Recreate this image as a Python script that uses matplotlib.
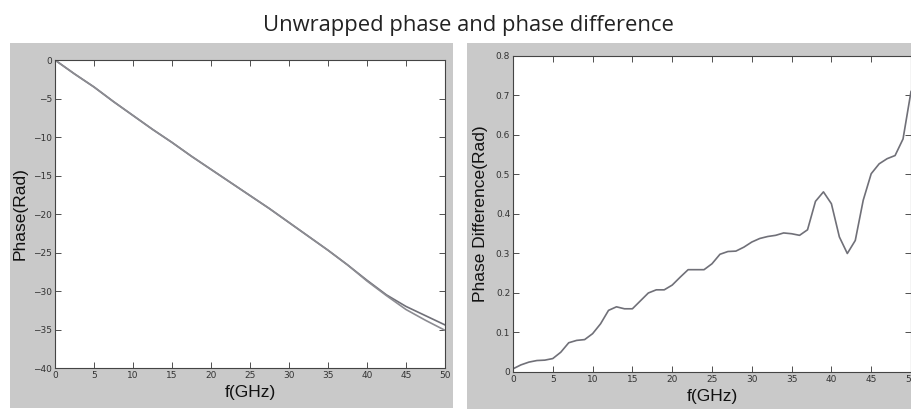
import matplotlib
matplotlib.use("Agg")
import matplotlib.pyplot as plt
from matplotlib.patches import Rectangle

# ── Data ─────────────────────────────────────────────────────────────────────
f_phase = [0, 2.5, 5, 7.5, 10, 12.5, 15, 17.5, 20, 22.5, 25, 27.5, 30, 32.5,
           35, 37.5, 40, 42.5, 45, 47.5, 50]
phase_a = [0.0, -1.8, -3.5, -5.4, -7.2, -9.0, -10.7, -12.5, -14.2, -15.9,
           -17.6, -19.3, -21.1, -22.9, -24.7, -26.6, -28.6, -30.5, -32.0,
           -33.2, -34.4]
phase_b = [0.0, -1.8, -3.5, -5.4, -7.2, -9.0, -10.7, -12.5, -14.2, -15.9,
           -17.6, -19.3, -21.1, -22.9, -24.7, -26.6, -28.7, -30.6, -32.4,
           -33.8, -35.1]

f_diff = list(range(0, 51))
phase_diff = [0.008, 0.018, 0.025, 0.029, 0.030, 0.034, 0.050, 0.074, 0.080,
              0.082, 0.097, 0.122, 0.156, 0.165, 0.160, 0.160, 0.180, 0.200,
              0.208, 0.208, 0.220, 0.240, 0.259, 0.259, 0.259, 0.274, 0.298,
              0.305, 0.306, 0.316, 0.329, 0.338, 0.343, 0.346, 0.352, 0.350,
              0.346, 0.360, 0.432, 0.456, 0.426, 0.342, 0.300, 0.333, 0.435,
              0.502, 0.527, 0.540, 0.548, 0.590, 0.710]

x_ticks = [0, 5, 10, 15, 20, 25, 30, 35, 40, 45, 50]
phase_ticks = [-40, -35, -30, -25, -20, -15, -10, -5, 0]
diff_ticks = [0, 0.1, 0.2, 0.3, 0.4, 0.5, 0.6, 0.7, 0.8]

# ── Style ────────────────────────────────────────────────────────────────────
_PANEL = "#c9c9c9"
_LINE1 = "#707078"
_LINE2 = "#8c8c92"
_TICK = "#333333"
_LABEL = dict(fontsize=12.5, family="Liberation Sans", color="#111111")

fig = plt.figure(figsize=(9.12, 4.09), dpi=100)
fig.patch.set_facecolor("white")

# grey figure panels behind each axes
fig.patches.append(Rectangle((0.011, 0.002), 0.486, 0.892, transform=fig.transFigure,
                             facecolor=_PANEL, edgecolor="none", zorder=-5))
fig.patches.append(Rectangle((0.512, 0.0), 0.488, 0.895, transform=fig.transFigure,
                             facecolor=_PANEL, edgecolor="none", zorder=-5))

fig.text(0.514, 0.937, "Unwrapped phase and phase difference", ha="center", va="center",
         fontsize=15.8, family="Open Sans", color="#222222")

ax1 = fig.add_axes([0.0603, 0.1002, 0.4276, 0.753])
ax2 = fig.add_axes([0.5625, 0.0905, 0.4364, 0.7726])

for ax in (ax1, ax2):
    ax.set_facecolor("white")
    ax.tick_params(direction="in", top=True, right=True, length=4, width=0.6,
                   labelsize=6.5, colors=_TICK, pad=2)
    for spine in ax.spines.values():
        spine.set_edgecolor("#444444")
        spine.set_linewidth(0.8)
    ax.set_xlim(0, 50)
    ax.set_xticks(x_ticks)

# ── Left: unwrapped phase ───────────────────────────────────────────────────
ax1.plot(f_phase, phase_a, color=_LINE1, linewidth=1.2)
ax1.plot(f_phase, phase_b, color=_LINE2, linewidth=1.2)
ax1.set_ylim(-40, 0)
ax1.set_yticks(phase_ticks)
ax1.set_xlabel("f(GHz)", labelpad=3.5, **_LABEL)
ax1.set_ylabel("Phase(Rad)", labelpad=4, **_LABEL)

# ── Right: phase difference ─────────────────────────────────────────────────
ax2.plot(f_diff, phase_diff, color=_LINE1, linewidth=1.2)
ax2.set_ylim(0, 0.8)
ax2.set_yticks(diff_ticks)
ax2.set_yticklabels(["0"] + [f"{v:.1f}" for v in diff_ticks[1:]])
ax2.set_xlabel("f(GHz)", labelpad=4, **_LABEL)
ax2.set_ylabel("Phase Difference(Rad)", labelpad=6, **_LABEL)

fig.savefig("out.png", dpi=100, facecolor=fig.get_facecolor())
